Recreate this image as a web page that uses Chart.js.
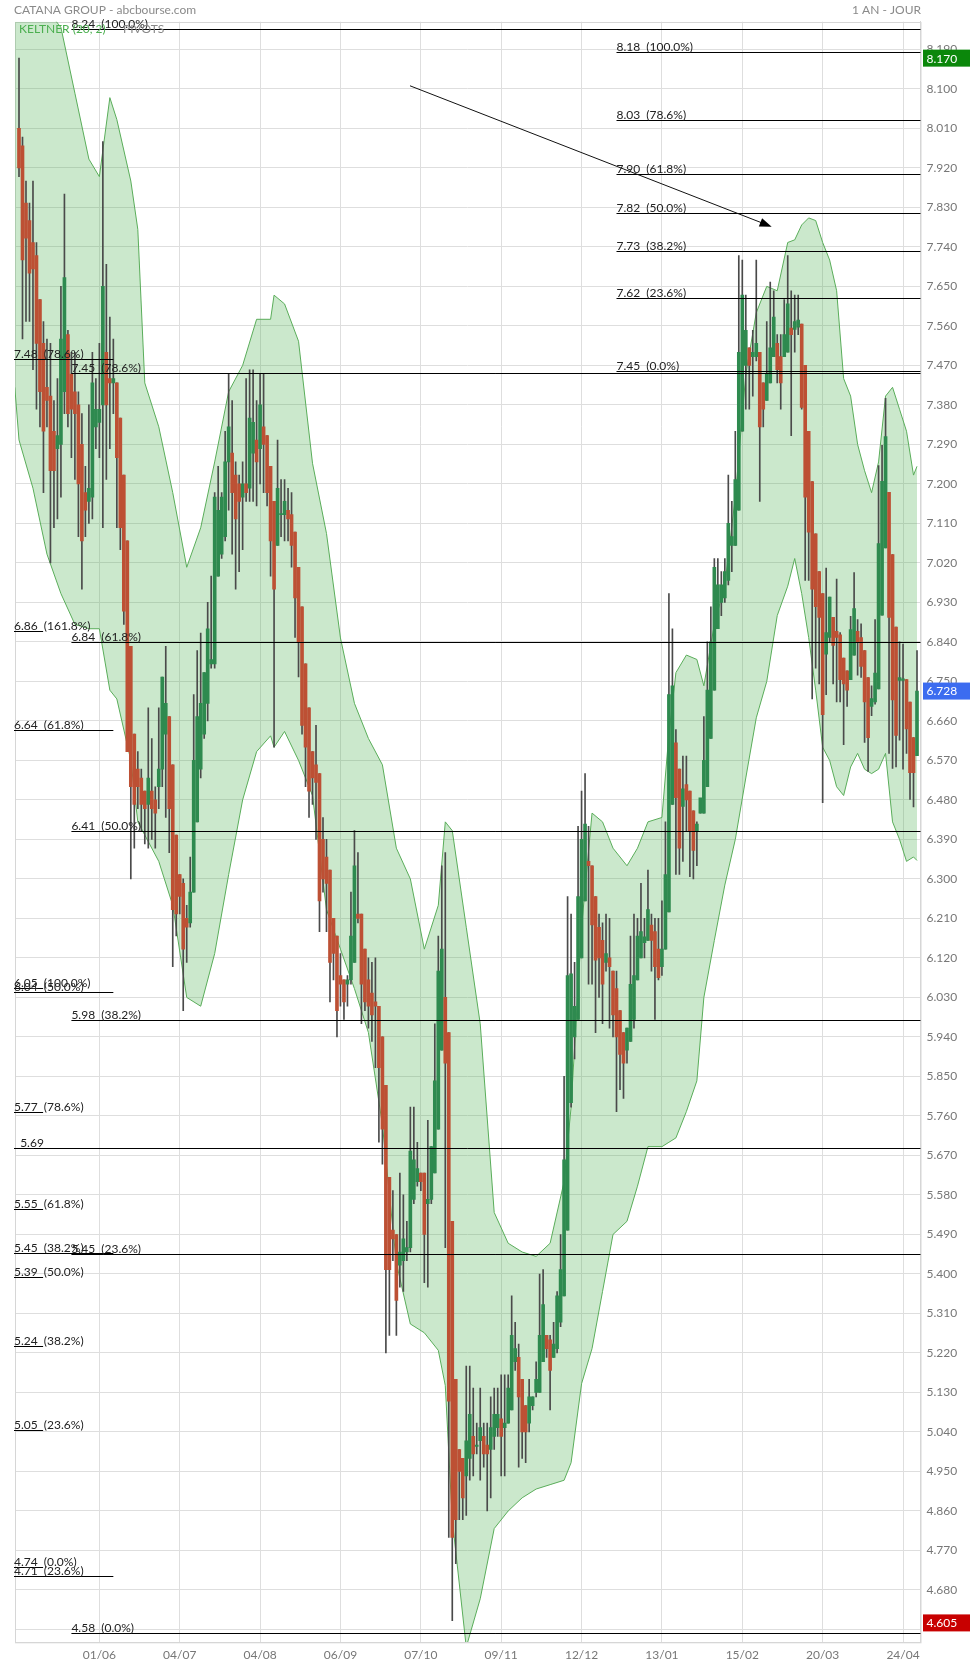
<!DOCTYPE html>
<html>
<head>
<meta charset="utf-8">
<script src="https://cdn.jsdelivr.net/npm/chart.js@4.4.0/dist/chart.umd.min.js"></script>
<style>
  html, body { margin: 0; padding: 0; background: #fff; }
</style>
</head>
<body>
<canvas id="chart" width="970" height="1665"></canvas>
<script>
// daily candles, one per trading day (index 0..257)
const opens = [
  8.01, 7.97, 7.84, 7.80, 7.75, 7.72, 7.62, 7.52, 7.42, 7.40,
  7.32, 7.28, 7.29, 7.41, 7.54, 7.45, 7.41, 7.38, 7.29, 7.18,
  7.16, 7.17, 7.33, 7.34, 7.38, 7.50, 7.44, 7.43, 7.43, 7.35,
  7.22, 7.07, 6.83, 6.63, 6.55, 6.53, 6.50, 6.47, 6.50, 6.48,
  6.51, 6.55, 6.63, 6.67, 6.56, 6.40, 6.31, 6.29, 6.21, 6.20,
  6.27, 6.43, 6.55, 6.63, 6.70, 6.79, 6.79, 6.99, 7.04, 7.08,
  7.25, 7.27, 7.22, 7.20, 7.17, 7.20, 7.19, 7.27, 7.30, 7.28,
  7.33, 7.31, 7.24, 7.16, 7.06, 7.13, 7.13, 7.14, 7.13, 7.09,
  7.01, 6.92, 6.79, 6.69, 6.59, 6.56, 6.54, 6.39, 6.35, 6.32,
  6.21, 6.17, 6.08, 6.07, 6.06, 6.07, 6.11, 6.22, 6.22, 6.14,
  6.07, 6.04, 6.02, 6.01, 5.94, 5.83, 5.62, 5.50, 5.49, 5.42,
  5.43, 5.45, 5.46, 5.57, 5.61, 5.63, 5.63, 5.56, 5.57, 5.63,
  5.73, 5.91, 6.03, 5.95, 5.52, 5.16, 5.00, 4.98, 4.94, 4.98,
  5.03, 5.007, 5.02, 5.03, 5.01, 5.00, 5.03, 5.05, 5.07, 5.05,
  5.06, 5.09, 5.20, 5.21, 5.16, 5.10, 5.06, 5.10, 5.13, 5.13,
  5.20, 5.26, 5.25, 5.21, 5.23, 5.29, 5.35, 5.50, 5.79, 5.94,
  5.98, 6.12, 6.25, 6.34, 6.33, 6.26, 6.19, 6.16, 6.11, 6.12,
  6.09, 6.05, 6.00, 5.95, 5.91, 5.93, 5.98, 6.07, 6.12, 6.155,
  6.16, 6.195, 6.18, 6.14, 6.10, 6.14, 6.225, 6.47, 6.61, 6.55,
  6.465, 6.515, 6.50, 6.455, 6.41, 6.45, 6.45, 6.51, 6.62, 6.73,
  6.87, 6.93, 6.94, 6.98, 7.06, 7.06, 7.14, 7.32, 7.47, 7.51,
  7.49, 7.49, 7.50, 7.43, 7.39, 7.43, 7.49, 7.52, 7.49, 7.49,
  7.50, 7.555, 7.552, 7.557, 7.564, 7.47, 7.32, 7.205, 7.086, 7.00,
  6.95, 6.812, 6.85, 6.896, 6.864, 6.856, 6.803, 6.774, 6.754, 6.81,
  6.864, 6.85, 6.82, 6.759, 6.693, 6.703, 6.733, 6.901, 7.054, 7.181,
  7.039, 6.874, 6.752, 6.752, 6.754, 6.703, 6.622, 6.581
];
const highs = [
  8.17, 7.99, 7.89, 7.84, 7.89, 7.75, 7.62, 7.57, 7.53, 7.52,
  7.39, 7.44, 7.65, 7.86, 7.55, 7.50, 7.50, 7.41, 7.36, 7.24,
  7.38, 7.50, 7.44, 7.52, 7.98, 7.70, 7.58, 7.53, 7.43, 7.35,
  7.22, 7.07, 6.83, 6.63, 6.59, 6.55, 6.50, 6.69, 6.62, 6.51,
  6.69, 6.76, 6.83, 6.67, 6.56, 6.40, 6.31, 6.30, 6.24, 6.35,
  6.72, 6.82, 6.86, 6.77, 6.93, 6.99, 7.18, 7.24, 7.18, 7.32,
  7.45, 7.39, 7.25, 7.22, 7.25, 7.44, 7.46, 7.46, 7.39, 7.45,
  7.45, 7.31, 7.24, 7.16, 7.30, 7.21, 7.21, 7.19, 7.18, 7.09,
  7.01, 6.92, 6.79, 6.69, 6.59, 6.65, 6.54, 6.44, 6.39, 6.32,
  6.21, 6.17, 6.13, 6.07, 6.08, 6.27, 6.41, 6.36, 6.22, 6.14,
  6.12, 6.11, 6.12, 6.01, 5.94, 5.83, 5.62, 5.59, 5.49, 5.63,
  5.58, 5.52, 5.78, 5.78, 5.70, 5.63, 5.63, 5.75, 5.69, 5.97,
  6.17, 6.33, 6.36, 5.95, 5.52, 5.16, 5.00, 4.98, 5.19, 5.19,
  5.14, 5.06, 5.14, 5.06, 5.06, 5.12, 5.14, 5.14, 5.17, 5.17,
  5.17, 5.35, 5.29, 5.24, 5.16, 5.10, 5.16, 5.12, 5.20, 5.40,
  5.41, 5.26, 5.26, 5.29, 5.36, 5.49, 5.85, 6.26, 6.22, 6.11,
  6.42, 6.50, 6.54, 6.42, 6.33, 6.26, 6.22, 6.20, 6.22, 6.21,
  6.09, 6.09, 6.00, 5.95, 5.96, 6.17, 6.22, 6.21, 6.29, 6.21,
  6.32, 6.22, 6.21, 6.21, 6.25, 6.43, 6.95, 6.87, 6.64, 6.55,
  6.58, 6.58, 6.50, 6.455, 6.43, 6.48, 6.67, 6.84, 6.92, 7.03,
  7.03, 7.00, 7.03, 7.22, 7.16, 7.32, 7.72, 7.71, 7.63, 7.51,
  7.55, 7.71, 7.50, 7.43, 7.57, 7.66, 7.64, 7.54, 7.54, 7.62,
  7.72, 7.64, 7.63, 7.63, 7.564, 7.47, 7.32, 7.205, 7.086, 7.00,
  6.95, 7.008, 6.942, 6.896, 6.983, 6.861, 6.803, 6.774, 6.898, 6.998,
  6.891, 6.881, 6.82, 6.759, 6.74, 6.891, 7.242, 7.288, 7.395, 7.181,
  7.039, 6.874, 6.84, 6.835, 6.754, 6.703, 6.622, 6.82
];
const lows = [
  7.90, 7.53, 7.57, 7.57, 7.46, 7.37, 7.33, 7.18, 7.33, 7.02,
  7.10, 7.12, 7.17, 7.36, 7.33, 7.26, 7.21, 7.08, 6.96, 7.08,
  7.11, 7.12, 7.28, 7.26, 7.10, 7.21, 7.28, 7.36, 7.10, 7.05,
  6.88, 6.59, 6.30, 6.37, 6.46, 6.41, 6.38, 6.37, 6.39, 6.37,
  6.46, 6.51, 6.44, 6.36, 6.10, 6.17, 6.22, 6.00, 6.11, 6.19,
  6.27, 6.43, 6.53, 6.62, 6.66, 6.78, 6.78, 6.99, 7.03, 7.07,
  7.14, 7.04, 6.96, 7.00, 7.05, 7.16, 7.16, 7.16, 7.15, 7.20,
  7.18, 7.15, 6.99, 6.60, 7.06, 7.08, 7.07, 7.07, 7.01, 6.85,
  6.76, 6.63, 6.51, 6.44, 6.47, 6.39, 6.18, 6.27, 6.18, 6.02,
  6.07, 5.94, 6.01, 5.98, 6.01, 6.06, 6.11, 6.20, 5.97, 6.00,
  5.96, 5.93, 5.87, 5.70, 5.65, 5.22, 5.26, 5.43, 5.26, 5.37,
  5.36, 5.43, 5.45, 5.56, 5.60, 5.59, 5.38, 5.37, 5.56, 5.63,
  5.73, 5.91, 5.46, 4.80, 4.61, 4.74, 4.84, 4.84, 4.85, 4.93,
  4.94, 4.99, 4.93, 4.96, 4.86, 4.89, 5.00, 5.03, 4.94, 4.94,
  5.06, 5.09, 5.18, 4.96, 4.98, 4.97, 5.04, 5.09, 5.12, 5.13,
  5.20, 5.21, 5.09, 5.21, 5.22, 5.28, 5.35, 5.50, 5.78, 5.89,
  5.98, 6.12, 6.25, 6.06, 6.06, 5.95, 6.03, 5.97, 6.09, 5.96,
  5.94, 5.77, 5.82, 5.80, 5.88, 5.93, 5.96, 6.07, 6.12, 6.12,
  6.16, 6.09, 5.98, 6.07, 6.08, 6.14, 6.225, 6.47, 6.31, 6.31,
  6.34, 6.41, 6.305, 6.30, 6.33, 6.45, 6.45, 6.51, 6.62, 6.73,
  6.87, 6.90, 6.93, 6.97, 7.00, 7.06, 7.14, 7.32, 7.37, 7.37,
  7.40, 7.48, 7.16, 7.33, 7.39, 7.43, 7.49, 7.43, 7.37, 7.49,
  7.50, 7.31, 7.50, 7.54, 7.37, 6.98, 6.98, 6.71, 6.78, 6.744,
  6.474, 6.72, 6.84, 6.744, 6.703, 6.703, 6.606, 6.693, 6.754, 6.81,
  6.764, 6.759, 6.611, 6.545, 6.672, 6.698, 6.733, 6.901, 7.054, 6.586,
  6.552, 6.555, 6.616, 6.55, 6.586, 6.481, 6.464, 6.581
];
const closes = [
  7.92, 7.71, 7.76, 7.68, 7.69, 7.52, 7.41, 7.32, 7.39, 7.23,
  7.23, 7.31, 7.53, 7.67, 7.36, 7.37, 7.36, 7.20, 7.07, 7.14,
  7.19, 7.43, 7.37, 7.37, 7.65, 7.38, 7.43, 7.44, 7.26, 7.10,
  6.91, 6.59, 6.51, 6.47, 6.51, 6.47, 6.46, 6.53, 6.46, 6.45,
  6.55, 6.76, 6.70, 6.46, 6.23, 6.22, 6.26, 6.14, 6.19, 6.27,
  6.57, 6.67, 6.70, 6.77, 6.87, 6.80, 7.17, 7.14, 7.17, 7.25,
  7.33, 7.18, 7.12, 7.16, 7.20, 7.18, 7.35, 7.34, 7.25, 7.38,
  7.29, 7.18, 7.07, 6.96, 7.19, 7.13, 7.16, 7.12, 7.06, 6.94,
  6.84, 6.65, 6.60, 6.50, 6.53, 6.52, 6.25, 6.30, 6.29, 6.11,
  6.13, 6.00, 6.06, 6.02, 6.07, 6.17, 6.33, 6.21, 6.06, 6.02,
  6.01, 5.99, 6.01, 5.87, 5.73, 5.41, 5.41, 5.48, 5.34, 5.45,
  5.48, 5.46, 5.68, 5.66, 5.64, 5.61, 5.49, 5.57, 5.69, 5.84,
  6.09, 6.14, 5.88, 5.11, 4.80, 4.84, 4.95, 4.89, 5.02, 5.08,
  4.99, 5.01, 5.05, 4.99, 4.99, 5.05, 5.08, 5.08, 5.03, 5.06,
  5.14, 5.26, 5.23, 5.12, 5.04, 5.04, 5.12, 5.12, 5.16, 5.26,
  5.33, 5.23, 5.18, 5.24, 5.35, 5.41, 5.66, 6.08, 6.084, 6.01,
  6.26, 6.39, 6.425, 6.33, 6.195, 6.115, 6.12, 6.06, 6.13, 6.10,
  5.99, 5.94, 5.90, 5.88, 5.96, 6.06, 6.08, 6.17, 6.18, 6.168,
  6.23, 6.16, 6.10, 6.075, 6.14, 6.31, 6.72, 6.74, 6.485, 6.37,
  6.505, 6.48, 6.41, 6.365, 6.425, 6.485, 6.57, 6.73, 6.84, 7.01,
  6.97, 6.97, 7.00, 7.11, 7.08, 7.21, 7.50, 7.63, 7.55, 7.47,
  7.50, 7.52, 7.33, 7.37, 7.45, 7.51, 7.58, 7.46, 7.43, 7.54,
  7.61, 7.54, 7.57, 7.573, 7.374, 7.17, 7.09, 6.96, 6.92, 6.896,
  6.674, 6.861, 6.942, 6.832, 6.85, 6.754, 6.744, 6.73, 6.868, 6.916,
  6.84, 6.784, 6.703, 6.622, 6.711, 6.769, 7.064, 7.206, 7.308, 6.896,
  6.708, 6.627, 6.759, 6.756, 6.642, 6.542, 6.542, 6.728
];

// Keltner (20, 2) envelope, read at these bar positions
const bandIdx = [-1.2, 0, 4, 8, 12, 16, 20, 23, 26, 28, 32, 34, 36, 40, 44, 48, 52, 56, 60, 64,
  68, 72, 73, 76, 80, 84, 88, 92, 96, 100, 104, 108, 112, 116, 120, 122, 124, 128, 132, 136,
  140, 144, 148, 152, 156, 158, 161, 164, 167, 170, 174, 177, 180, 184, 186, 188, 191, 194, 196, 199,
  202, 205, 208, 211, 214, 217, 220, 222, 224, 226, 228, 230, 232, 234, 236, 238, 240, 242, 244, 246,
  248, 250, 252, 254, 256, 257];
const bandUpper = [8.32, 8.32, 8.32, 8.28, 8.24, 8.09, 7.94, 7.90, 8.08, 8.03, 7.89, 7.78, 7.43, 7.33, 7.18, 7.01, 7.10, 7.25, 7.41, 7.47,
  7.575, 7.575, 7.63, 7.61, 7.525, 7.247, 7.087, 6.849, 6.70, 6.62, 6.56, 6.37, 6.30, 6.14, 6.24, 6.43, 6.41, 6.19, 5.97, 5.54,
  5.47, 5.45, 5.44, 5.47, 5.61, 5.78, 6.19, 6.45, 6.43, 6.37, 6.33, 6.37, 6.43, 6.44, 6.63, 6.77, 6.81, 6.80, 6.74, 6.88,
  6.97, 7.17, 7.45, 7.59, 7.65, 7.64, 7.75, 7.756, 7.79, 7.806, 7.80, 7.75, 7.71, 7.64, 7.44, 7.40, 7.29, 7.23, 7.18, 7.25,
  7.40, 7.42, 7.37, 7.32, 7.22, 7.24];
const bandLower = [7.42, 7.30, 7.19, 7.04, 6.95, 6.88, 6.87, 6.87, 6.73, 6.71, 6.57, 6.43, 6.40, 6.34, 6.24, 6.03, 6.01, 6.13, 6.31, 6.48,
  6.59, 6.626, 6.60, 6.636, 6.57, 6.49, 6.23, 6.14, 6.05, 5.95, 5.74, 5.425, 5.286, 5.266, 5.226, 5.146, 4.84, 4.55, 4.66, 4.82,
  4.86, 4.89, 4.91, 4.92, 4.93, 4.97, 5.15, 5.23, 5.36, 5.49, 5.52, 5.60, 5.69, 5.69, 5.70, 5.71, 5.77, 5.84, 6.03, 6.16,
  6.286, 6.39, 6.53, 6.667, 6.75, 6.90, 6.967, 7.03, 6.95, 6.85, 6.73, 6.60, 6.57, 6.51, 6.49, 6.555, 6.586, 6.55, 6.54, 6.55,
  6.586, 6.43, 6.39, 6.34, 6.35, 6.342];

// axis ticks
const xTickIdx = [23, 46, 69, 92, 115, 138, 161, 184, 207, 230, 253];
const xTickLabels = ['01/06', '04/07', '04/08', '06/09', '07/10', '09/11', '12/12', '13/01', '15/02', '20/03', '24/04'];
const yTickVals = [8.19, 8.10, 8.01, 7.92, 7.83, 7.74, 7.65, 7.56, 7.47, 7.38, 7.29, 7.20, 7.11, 7.02,
  6.93, 6.84, 6.75, 6.66, 6.57, 6.48, 6.39, 6.30, 6.21, 6.12, 6.03, 5.94, 5.85, 5.76, 5.67, 5.58,
  5.49, 5.40, 5.31, 5.22, 5.13, 5.04, 4.95, 4.86, 4.77, 4.68, 4.59];

// Fibonacci / pivot levels: value, text, first bar, last bar (null = chart edge)
const fibValues = [8.236, 8.185, 8.029, 7.906, 7.817, 7.731, 7.624, 7.457, 7.484, 7.453,
  6.865, 6.840, 6.640, 6.410, 6.052, 6.042, 5.978, 5.768, 5.686, 5.548,
  5.448, 5.446, 5.394, 5.237, 5.045, 4.733, 4.712, 4.583];
const fibTexts = ['8.24  (100.0%)', '8.18  (100.0%)', '8.03  (78.6%)', '7.90  (61.8%)', '7.82  (50.0%)',
  '7.73  (38.2%)', '7.62  (23.6%)', '7.45  (0.0%)', '7.48  (78.6%)', '7.45  (78.6%)',
  '6.86  (161.8%)', '6.84  (61.8%)', '6.64  (61.8%)', '6.41  (50.0%)', '6.05  (100.0%)',
  '6.04  (50.0%)', '5.98  (38.2%)', '5.77  (78.6%)', '  5.69', '5.55  (61.8%)',
  '5.45  (38.2%)', '5.45  (23.6%)', '5.39  (50.0%)', '5.24  (38.2%)', '5.05  (23.6%)',
  '4.74  (0.0%)', '4.71  (23.6%)', '4.58  (0.0%)'];
const fibFrom = [15, 171, 171, 171, 171, 171, 171, 171, null, 15,
  null, 15, null, 15, null, null, 15, null, null, null,
  null, 15, null, null, null, null, null, 15];
const fibTo = [null, null, null, null, null, null, null, null, 27, null,
  6.9, null, 27, null, 6.9, 27, null, 6.9, null, 6.9,
  27, null, 6.9, 6.9, 6.9, 6.9, 27, null];

// trend arrow (bar, price)
const arrowFrom = [111.9, 8.107];
const arrowTo = [215.4, 7.786];

// price badges on the right axis
const badgeValues = [8.170, 6.728, 4.605];
const badgeColors = ['#0b870b', '#3c6cf0', '#c80000'];

const FONT = 'Lato, "Open Sans", sans-serif';
const upCol = '#2e8a4f';
const downCol = '#bd5034';

const overlay = {
  id: 'overlay',
  beforeDatasetsDraw(chart) {
    const { ctx, chartArea: a } = chart;
    ctx.save();
    ctx.strokeStyle = '#d6d6d6';
    ctx.lineWidth = 1;
    ctx.strokeRect(Math.round(a.left) + 0.5, Math.round(a.top) + 0.5, a.right - a.left, a.bottom - a.top);
    ctx.restore();
  },
  afterDatasetsDraw(chart) {
    const { ctx, chartArea: a, scales: { x, y } } = chart;
    ctx.save();
    ctx.font = '12px ' + FONT;
    ctx.textBaseline = 'alphabetic';
    ctx.textAlign = 'left';
    fibValues.forEach((v, k) => {
      const py = Math.round(y.getPixelForValue(v)) + 0.5;
      const x0 = fibFrom[k] === null ? a.left - 1 : x.getPixelForValue(fibFrom[k]);
      const x1 = fibTo[k] === null ? a.right : x.getPixelForValue(fibTo[k]);
      ctx.strokeStyle = '#000';
      ctx.lineWidth = 1;
      ctx.beginPath();
      ctx.moveTo(x0, py);
      ctx.lineTo(x1, py);
      ctx.stroke();
      ctx.fillStyle = '#222';
      ctx.fillText(fibTexts[k], x0, py - 2);
    });

    // arrow
    const ax0 = x.getPixelForValue(arrowFrom[0]), ay0 = y.getPixelForValue(arrowFrom[1]);
    const ax1 = x.getPixelForValue(arrowTo[0]), ay1 = y.getPixelForValue(arrowTo[1]);
    const ang = Math.atan2(ay1 - ay0, ax1 - ax0);
    ctx.strokeStyle = '#111';
    ctx.beginPath();
    ctx.moveTo(ax0, ay0);
    ctx.lineTo(ax1 - 8 * Math.cos(ang), ay1 - 8 * Math.sin(ang));
    ctx.stroke();
    ctx.fillStyle = '#000';
    ctx.beginPath();
    ctx.moveTo(ax1, ay1);
    ctx.lineTo(ax1 - 12 * Math.cos(ang) + 4.5 * Math.sin(ang), ay1 - 12 * Math.sin(ang) - 4.5 * Math.cos(ang));
    ctx.lineTo(ax1 - 12 * Math.cos(ang) - 4.5 * Math.sin(ang), ay1 - 12 * Math.sin(ang) + 4.5 * Math.cos(ang));
    ctx.closePath();
    ctx.fill();

    // indicator legend
    ctx.font = '12px ' + FONT;
    ctx.fillStyle = '#4caf50';
    ctx.fillText('KELTNER (20, 2)', 19, 33);
    ctx.fillStyle = '#888';
    ctx.fillText('PIVOTS', 123, 33);
    ctx.restore();
  },
  afterDraw(chart) {
    const { ctx, chartArea: a, scales: { y } } = chart;
    ctx.save();
    ctx.font = '12px ' + FONT;
    ctx.textBaseline = 'middle';
    badgeValues.forEach((v, k) => {
      const py = y.getPixelForValue(v);
      ctx.fillStyle = badgeColors[k];
      ctx.fillRect(a.right + 2.5, py - 8.5, chart.width - a.right - 2.5, 17);
      ctx.fillStyle = '#fff';
      ctx.textAlign = 'left';
      ctx.fillText(v.toFixed(3), a.right + 6, py + 0.5);
    });
    ctx.fillStyle = '#8a8a8a';
    ctx.font = '12px ' + FONT;
    ctx.textBaseline = 'alphabetic';
    ctx.textAlign = 'left';
    ctx.fillText('CATANA GROUP - abcbourse.com', 14, 13.5);
    ctx.textAlign = 'right';
    ctx.fillText('1 AN - JOUR', 921, 13.5);
    ctx.restore();
  }
};

const bodyColors = opens.map((o, i) => closes[i] >= o ? upCol : downCol);

new Chart(document.getElementById('chart'), {
  type: 'bar',
  data: {
    datasets: [
      {
        type: 'line', label: 'Keltner haut',
        data: bandIdx.map((v, k) => ({ x: v, y: bandUpper[k] })),
        borderColor: '#5aad5a', borderWidth: 1, pointRadius: 0, tension: 0, fill: false, order: 3
      },
      {
        type: 'line', label: 'Keltner bas',
        data: bandIdx.map((v, k) => ({ x: v, y: bandLower[k] })),
        borderColor: '#5aad5a', borderWidth: 1, pointRadius: 0, tension: 0,
        fill: '-1', backgroundColor: 'rgba(76,175,80,0.29)', order: 3
      },
      {
        label: 'mèches',
        data: opens.map((o, i) => ({ x: i, y: [lows[i], highs[i]] })),
        backgroundColor: '#4a4a4a', barThickness: 1, grouped: false, order: 2
      },
      {
        label: 'corps',
        data: opens.map((o, i) => ({ x: i, y: [o, closes[i]] })),
        backgroundColor: bodyColors, barThickness: 3, minBarLength: 1, grouped: false, order: 1
      }
    ]
  },
  options: {
    responsive: false,
    animation: false,
    events: [],
    layout: { padding: { left: 15, top: 21.7, right: 0, bottom: 0 } },
    plugins: { legend: { display: false }, tooltip: { enabled: false } },
    scales: {
      x: {
        type: 'linear', min: -1.145, max: 258.0, offset: false,
        afterBuildTicks: s => { s.ticks = xTickIdx.map(v => ({ value: v })); },
        afterFit: s => { s.height = 23; },
        ticks: {
          autoSkip: false, maxRotation: 0, padding: 6, color: '#777',
          font: { family: FONT, size: 12 },
          callback: v => xTickLabels[xTickIdx.indexOf(v)] || ''
        },
        grid: { color: '#dedede', drawTicks: false, offset: false },
        border: { color: '#d6d6d6' }
      },
      y: {
        type: 'linear', position: 'right', min: 4.5615, max: 8.253,
        afterBuildTicks: s => { s.ticks = yTickVals.map(v => ({ value: v })); },
        afterFit: s => { s.width = 49.5; },
        ticks: {
          padding: 6, color: '#777',
          font: { family: FONT, size: 12 },
          callback: v => v < 4.6 ? '' : v.toFixed(3)
        },
        grid: { color: '#dedede', drawTicks: false },
        border: { color: '#d6d6d6' }
      }
    }
  },
  plugins: [overlay]
});
</script>
</body>
</html>
